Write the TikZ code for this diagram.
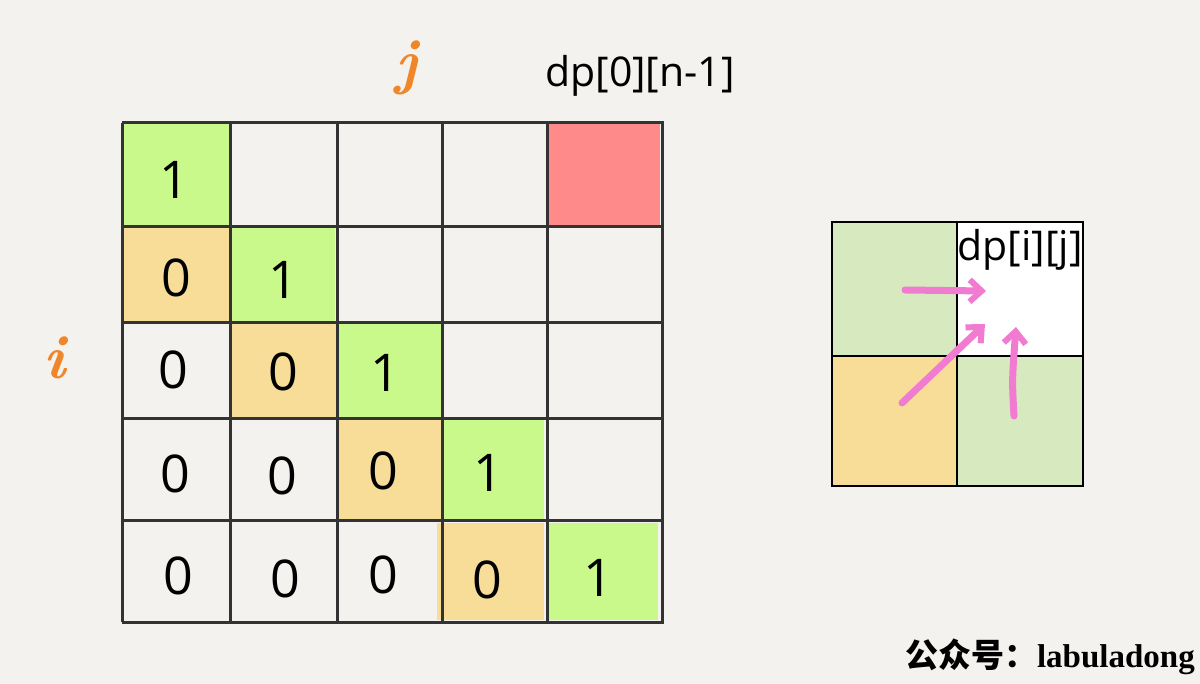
\documentclass[tikz,border=0pt]{standalone}
\usepackage{fontspec}
\usetikzlibrary{arrows.meta}
\newfontfamily\numfont{Open Sans}
\newfontfamily\cjk{Noto Sans CJK SC}
\newfontfamily\serifb{Liberation Serif}
\definecolor{paper}{HTML}{F3F2EF}
\definecolor{lime}{HTML}{C8F98A}
\definecolor{sand}{HTML}{F8DD99}
\definecolor{rose}{HTML}{FF8A8A}
\definecolor{sage}{HTML}{D7EABF}
\definecolor{ink}{HTML}{333333}
\definecolor{pinkarrow}{HTML}{F07BD0}
\definecolor{orangelbl}{HTML}{F0862A}
\tikzset{
  num/.style={font=\numfont\fontsize{52}{56}\selectfont, text=black, inner sep=0pt},
  gridline/.style={draw=ink, line width=3pt},
  smallline/.style={draw=black, line width=2pt},
  pinkarr/.style={draw=pinkarrow, line width=7pt, line cap=round, -{Straight Barb[length=12pt,width=22pt,line width=6pt]}},
  axislbl/.style={font=\bfseries\itshape\fontsize{62}{64}\selectfont, text=orangelbl, inner sep=0pt},
  dplbl/.style={font=\numfont\fontsize{41}{44}\selectfont, text=black, inner sep=0pt}
}
\begin{document}
\begin{tikzpicture}[x=1pt,y=-1pt]
\useasboundingbox (0,0) rectangle (1200,684);
\fill[paper] (0,0) rectangle (1200,684);

% cell fills
\fill[lime] (124,124) rectangle (229,226);
\fill[rose] (547,124) rectangle (660,226);
\fill[sand] (124,227) rectangle (229,321);
\fill[lime] (232,228) rectangle (335,321);
\fill[sand] (232,324) rectangle (336,418);
\fill[lime] (338,323) rectangle (441,418);
\fill[sand] (337,420) rectangle (441,520);
\fill[lime] (443,420) rectangle (544,520);
\fill[sand] (437,523) rectangle (544,620);
\fill[lime] (546,523) rectangle (658,620);

% grid lines
\foreach \x in {122,230,337,442,547,662}
  \draw[gridline] (\x,123) -- (\x,622);
\foreach \y in {123,227,323,419,520,622}
  \draw[gridline] (122,\y) -- (664,\y);

% numbers
\node[num] (c00) at (174,180) {1};
\node[num] (c10) at (176,278) {0};
\node[num] (c11) at (283,280) {1};
\node[num] (c20) at (173,370) {0};
\node[num] (c21) at (283,372) {0};
\node[num] (c22) at (385,373) {1};
\node[num] (c30) at (175,474) {0};
\node[num] (c31) at (282,476) {0};
\node[num] (c32) at (383,471) {0};
\node[num] (c33) at (488,473) {1};
\node[num] (c40) at (178,576) {0};
\node[num] (c41) at (285,579) {0};
\node[num] (c42) at (383,575) {0};
\node[num] (c43) at (487,580) {0};
\node[num] (c44) at (598,578) {1};

% axis labels
\node[axislbl] (jlbl) at (407,68) {j};
\node[axislbl] (ilbl) at (55,358) {i};
\node[dplbl] (dp0n) at (640,76) {dp[0][n-1]};

% small grid
\fill[sage] (832,222) rectangle (957,356);
\fill[white] (957,222) rectangle (1083,356);
\fill[sand] (832,356) rectangle (957,486);
\fill[sage] (957,356) rectangle (1083,486);
\draw[smallline] (832,222) rectangle (1083,486);
\draw[smallline] (957,222) -- (957,486);
\draw[smallline] (832,356) -- (1083,356);
\node[dplbl] (dpij) at (1020,250) {dp[i][j]};

\coordinate (a1s) at (905,290);
\coordinate (a1e) at (986,291);
\coordinate (a2s) at (902,403);
\coordinate (a2e) at (985,324);
\coordinate (a3s) at (1014,416);
\coordinate (a3e) at (1016,327);
\draw[pinkarr] (a1s) -- (a1e);
\draw[pinkarr] (a2s) -- (a2e);
\draw[pinkarr] (a3s) .. controls (1012,380) .. (a3e);

% watermark
\node[inner sep=0pt, anchor=east, font=\fontsize{33}{35}\selectfont] (wm) at (1195,657) {{\cjk\bfseries 公众号：}{\serifb\bfseries labuladong}};
\end{tikzpicture}
\end{document}
